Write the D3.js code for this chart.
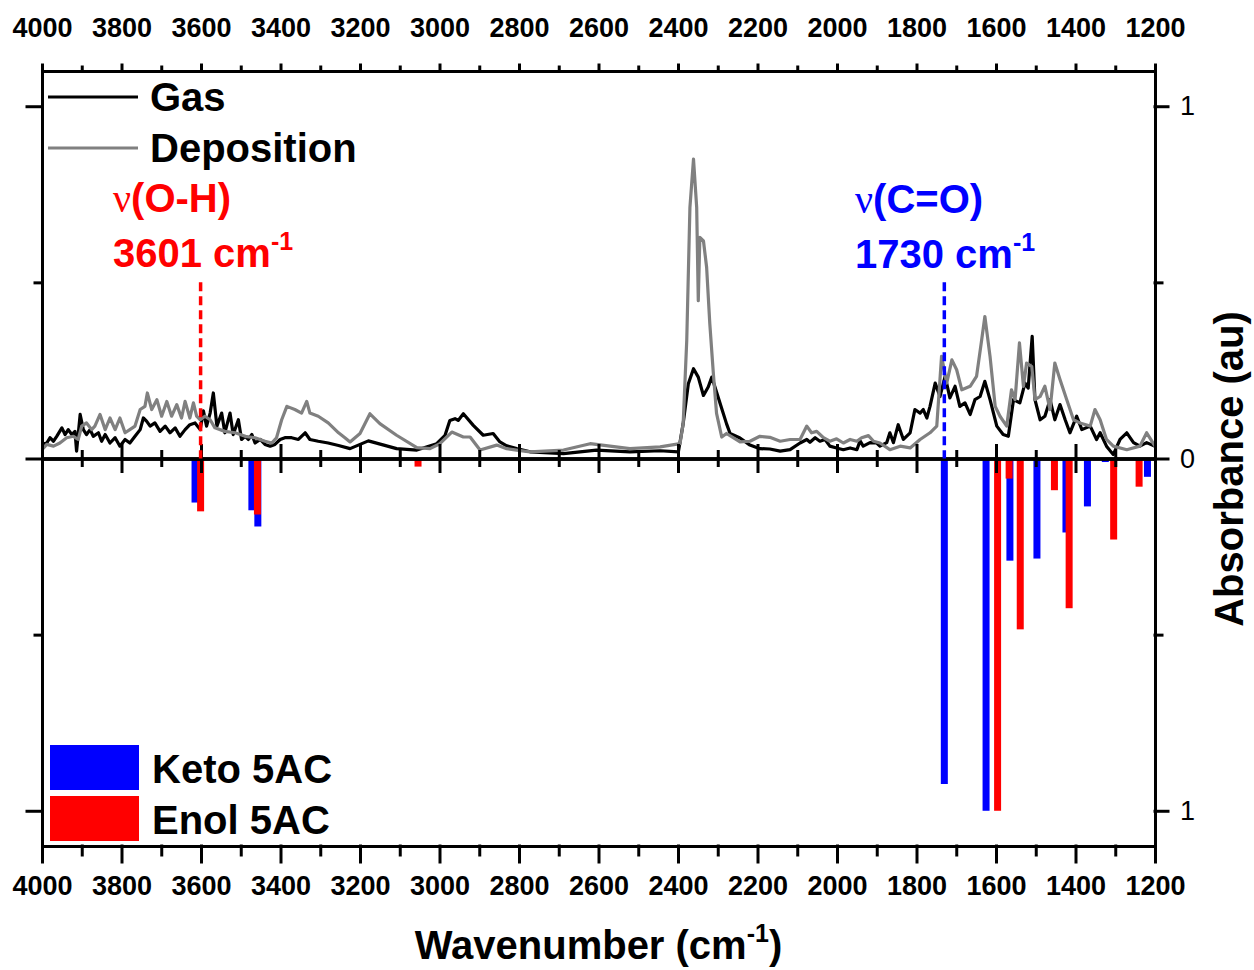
<!DOCTYPE html>
<html>
<head>
<meta charset="utf-8">
<script src="https://cdn.jsdelivr.net/npm/d3@7"></script>
<style>
body { margin: 0; background: #fff; }
text { font-family: "Liberation Sans", Arial, sans-serif; }
</style>
</head>
<body>
<script>
// spectra: [wavenumber, absorbance]
var gas = [
  [4000,0.040],[3988,0.044],[3980,0.059],[3971,0.049],[3963,0.063],[3950,0.087],[3942,0.068],[3934,0.082],
  [3925,0.068],[3917,0.077],[3913,0.021],[3904,0.125],[3896,0.082],[3888,0.068],[3879,0.082],[3871,0.063],
  [3858,0.073],[3850,0.049],[3841,0.068],[3829,0.044],[3816,0.059],[3804,0.035],[3791,0.054],[3779,0.044],
  [3766,0.063],[3753,0.082],[3745,0.115],[3737,0.106],[3728,0.092],[3716,0.101],[3703,0.077],[3690,0.092],
  [3678,0.073],[3665,0.087],[3653,0.063],[3640,0.082],[3628,0.096],[3615,0.101],[3602,0.082],[3594,0.135],
  [3586,0.092],[3577,0.129],[3569,0.186],[3560,0.092],[3548,0.129],[3540,0.073],[3527,0.129],[3519,0.068],
  [3506,0.110],[3498,0.054],[3489,0.063],[3481,0.054],[3472,0.068],[3464,0.044],[3451,0.054],[3439,0.040],
  [3426,0.035],[3414,0.040],[3401,0.054],[3389,0.059],[3372,0.059],[3355,0.054],[3338,0.073],[3326,0.054],
  [3305,0.049],[3280,0.044],[3254,0.037],[3225,0.028],[3179,0.050],[3140,0.038],[3108,0.028],[3057,0.024],
  [3007,0.042],[2986,0.066],[2974,0.108],[2961,0.113],[2953,0.108],[2940,0.127],[2915,0.094],[2890,0.066],
  [2865,0.071],[2848,0.047],[2831,0.036],[2806,0.028],[2772,0.019],[2688,0.014],[2605,0.024],[2521,0.019],
  [2445,0.022],[2399,0.019],[2387,0.099],[2374,0.212],[2361,0.255],[2349,0.231],[2336,0.179],[2324,0.203],
  [2315,0.231],[2307,0.203],[2294,0.156],[2278,0.099],[2269,0.071],[2244,0.058],[2219,0.038],[2194,0.028],
  [2169,0.027],[2143,0.021],[2118,0.025],[2093,0.044],[2076,0.054],[2068,0.046],[2055,0.059],[2043,0.049],
  [2030,0.054],[2018,0.035],[2001,0.030],[1984,0.025],[1967,0.030],[1950,0.025],[1942,0.050],[1934,0.035],
  [1917,0.045],[1900,0.044],[1892,0.035],[1875,0.045],[1867,0.073],[1858,0.045],[1846,0.096],[1833,0.054],
  [1816,0.073],[1804,0.139],[1791,0.129],[1783,0.139],[1774,0.115],[1766,0.148],[1753,0.214],[1741,0.176],
  [1728,0.233],[1716,0.172],[1703,0.205],[1691,0.148],[1678,0.158],[1665,0.125],[1653,0.167],[1640,0.176],
  [1628,0.219],[1615,0.167],[1598,0.092],[1582,0.068],[1569,0.063],[1556,0.167],[1540,0.158],[1527,0.214],
  [1519,0.200],[1509,0.347],[1502,0.167],[1489,0.110],[1477,0.120],[1464,0.167],[1452,0.110],[1439,0.153],
  [1426,0.110],[1414,0.073],[1397,0.120],[1384,0.082],[1363,0.092],[1347,0.054],[1338,0.073],[1322,0.035],
  [1305,0.011],[1288,0.054],[1271,0.073],[1254,0.045],[1238,0.035],[1221,0.045],[1200,0.035]
];

var deposition = [
  [4000,0.025],[3988,0.040],[3971,0.035],[3955,0.044],[3938,0.059],[3921,0.063],[3909,0.054],[3900,0.092],
  [3888,0.101],[3875,0.082],[3867,0.092],[3854,0.125],[3841,0.082],[3829,0.115],[3816,0.082],[3804,0.115],
  [3791,0.073],[3779,0.082],[3766,0.092],[3753,0.139],[3741,0.148],[3735,0.186],[3724,0.139],[3711,0.167],
  [3699,0.120],[3686,0.162],[3674,0.120],[3661,0.153],[3649,0.115],[3640,0.162],[3628,0.115],[3619,0.158],
  [3611,0.120],[3602,0.110],[3590,0.120],[3577,0.110],[3565,0.087],[3540,0.077],[3514,0.073],[3489,0.063],
  [3464,0.059],[3439,0.049],[3422,0.044],[3410,0.059],[3397,0.110],[3384,0.148],[3364,0.139],[3347,0.129],
  [3334,0.162],[3326,0.129],[3305,0.120],[3280,0.101],[3254,0.073],[3238,0.059],[3225,0.047],[3200,0.071],
  [3175,0.127],[3150,0.099],[3108,0.066],[3057,0.031],[3024,0.028],[2999,0.042],[2969,0.075],[2940,0.061],
  [2923,0.061],[2898,0.024],[2856,0.038],[2831,0.028],[2806,0.024],[2772,0.019],[2688,0.024],[2621,0.042],
  [2521,0.028],[2445,0.033],[2395,0.042],[2387,0.099],[2378,0.335],[2370,0.713],[2361,0.850],[2353,0.713],
  [2349,0.448],[2345,0.628],[2336,0.618],[2328,0.543],[2320,0.383],[2311,0.240],[2303,0.128],[2290,0.061],
  [2278,0.071],[2244,0.047],[2219,0.049],[2194,0.063],[2169,0.060],[2143,0.049],[2118,0.054],[2093,0.054],
  [2076,0.092],[2064,0.073],[2051,0.077],[2034,0.059],[2018,0.049],[2001,0.056],[1984,0.044],[1967,0.054],
  [1950,0.049],[1938,0.059],[1921,0.065],[1908,0.049],[1892,0.044],[1867,0.025],[1841,0.035],[1816,0.030],
  [1791,0.054],[1766,0.073],[1749,0.092],[1737,0.290],[1724,0.214],[1711,0.280],[1699,0.252],[1686,0.195],
  [1665,0.205],[1649,0.233],[1636,0.337],[1628,0.403],[1615,0.290],[1602,0.148],[1590,0.120],[1573,0.092],
  [1561,0.195],[1552,0.167],[1541,0.328],[1531,0.205],[1523,0.271],[1510,0.261],[1502,0.167],[1489,0.176],
  [1477,0.205],[1464,0.139],[1452,0.271],[1439,0.224],[1422,0.167],[1405,0.110],[1389,0.101],[1363,0.092],
  [1351,0.139],[1338,0.110],[1322,0.054],[1305,0.035],[1271,0.025],[1238,0.035],[1221,0.073],[1200,0.035]
];

// computed bands: [wavenumber, relative intensity] (drawn downward)
var keto = [[3615,0.125],[3472,0.147],[3457,0.193],[3050,0.005],[1730,0.924],[1625,1.0],[1565,0.29],
            [1497,0.284],[1424,0.21],[1370,0.136],[1325,0.01],[1219,0.052]];
var enol = [[3601,0.15],[3458,0.159],[3054,0.023],[1596,1.0],[1567,0.057],[1539,0.485],[1453,0.09],
            [1416,0.425],[1304,0.23],[1240,0.08]];

var majorX = [4000,3800,3600,3400,3200,3000,2800,2600,2400,2200,2000,1800,1600,1400,1200];
var minorX = [3900,3700,3500,3300,3100,2900,2700,2500,2300,2100,1900,1700,1500,1300];
var majorY = [-1, 0, 1];
var minorY = [-0.5, 0.5];

// dimensioni
var width = 1254, height = 970;
var pLeft = 42, pRight = 1155, pTop = 71, pBottom = 846;

var svg = d3.select("body").append("svg")
    .attr("width", width)
    .attr("height", height);

var x = d3.scaleLinear().domain([4000, 1200]).range([pLeft, pRight]);
var y = d3.scaleLinear().domain([-1.1, 1.1]).range([pBottom, pTop]);

// spectra
var line = d3.line().x(function (d) { return x(d[0]); }).y(function (d) { return y(d[1]); });

svg.append("path").datum(gas)
    .attr("d", line).attr("fill", "none").attr("stroke", "#000").attr("stroke-width", 3.2)
    .attr("stroke-linejoin", "round");
svg.append("path").datum(deposition)
    .attr("d", line).attr("fill", "none").attr("stroke", "#808080").attr("stroke-width", 3.2)
    .attr("stroke-linejoin", "round");

// bars
var barW = 7;
svg.append("g").selectAll("rect").data(keto).enter().append("rect")
    .attr("x", function (d) { return x(d[0]) - barW / 2; })
    .attr("y", y(0))
    .attr("width", barW)
    .attr("height", function (d) { return y(-d[1]) - y(0); })
    .attr("fill", "#0000ff");
svg.append("g").selectAll("rect").data(enol).enter().append("rect")
    .attr("x", function (d) { return x(d[0]) - barW / 2; })
    .attr("y", y(0))
    .attr("width", barW)
    .attr("height", function (d) { return y(-d[1]) - y(0); })
    .attr("fill", "#ff0000");

// assi
function styleAxis(g) {
    g.selectAll("path, line").attr("stroke", "#000").attr("stroke-width", 3).attr("stroke-linecap", "square");
    g.selectAll("text").attr("fill", "#000").attr("font-family", "Liberation Sans, Arial, sans-serif");
}

svg.append("g").attr("transform", "translate(0," + pTop + ")")
    .call(d3.axisTop(x).tickValues(majorX).tickSize(6).tickSizeOuter(0).tickPadding(28).tickFormat(d3.format("d")))
    .call(styleAxis)
    .selectAll("text").attr("font-size", 27).attr("font-weight", "bold");
svg.append("g").attr("transform", "translate(0," + pTop + ")")
    .call(d3.axisTop(x).tickValues(minorX).tickSize(4).tickSizeOuter(0).tickFormat(""))
    .call(styleAxis);

svg.append("g").attr("transform", "translate(0," + pBottom + ")")
    .call(d3.axisBottom(x).tickValues(majorX).tickSize(16).tickSizeOuter(0).tickPadding(14).tickFormat(d3.format("d")))
    .call(styleAxis)
    .selectAll("text").attr("font-size", 27).attr("font-weight", "bold");
svg.append("g").attr("transform", "translate(0," + pBottom + ")")
    .call(d3.axisBottom(x).tickValues(minorX).tickSize(9).tickSizeOuter(0).tickFormat(""))
    .call(styleAxis);

// linea dello zero con tacche su entrambi i lati
[d3.axisTop, d3.axisBottom].forEach(function (ax) {
    svg.append("g").attr("transform", "translate(0," + y(0) + ")")
        .call(ax(x).tickValues(majorX).tickSize(13).tickSizeOuter(0).tickFormat(""))
        .call(styleAxis);
    svg.append("g").attr("transform", "translate(0," + y(0) + ")")
        .call(ax(x).tickValues(minorX).tickSize(7).tickSizeOuter(0).tickFormat(""))
        .call(styleAxis);
});

svg.append("g").attr("transform", "translate(" + pLeft + ",0)")
    .call(d3.axisLeft(y).tickValues(majorY).tickSize(15).tickSizeOuter(0).tickFormat(""))
    .call(styleAxis);
svg.append("g").attr("transform", "translate(" + pLeft + ",0)")
    .call(d3.axisLeft(y).tickValues(minorY).tickSize(7).tickSizeOuter(0).tickFormat(""))
    .call(styleAxis);

svg.append("g").attr("transform", "translate(" + pRight + ",0)")
    .call(d3.axisRight(y).tickValues(majorY).tickSize(13).tickSizeOuter(0).tickPadding(12)
        .tickFormat(function (d) { return Math.abs(d); }))
    .call(styleAxis)
    .selectAll("text").attr("font-size", 27).attr("font-weight", "normal");
svg.append("g").attr("transform", "translate(" + pRight + ",0)")
    .call(d3.axisRight(y).tickValues(minorY).tickSize(7).tickSizeOuter(0).tickFormat(""))
    .call(styleAxis);

// linee tratteggiate
var marks = [{ wn: 3601, color: "#ff0000" }, { wn: 1730, color: "#0000ff" }];
svg.selectAll(".mark").data(marks).enter().append("line")
    .attr("x1", function (d) { return x(d.wn); })
    .attr("x2", function (d) { return x(d.wn); })
    .attr("y1", y(0.5))
    .attr("y2", y(0))
    .attr("stroke", function (d) { return d.color; })
    .attr("stroke-width", 3.5)
    .attr("stroke-dasharray", "9,5");

// annotazioni
function label(xp, yp, color, parts) {
    var t = svg.append("text").attr("x", xp).attr("y", yp).attr("fill", color)
        .attr("font-size", 40).attr("font-weight", "bold");
    parts.forEach(function (p) {
        var s = t.append("tspan").text(p.t);
        if (p.sup) s.attr("font-size", 25).attr("dy", -17);
        if (p.normal) s.attr("font-weight", "normal").attr("font-family", "Liberation Serif, serif");
    });
}
label(113, 212, "#ff0000", [{ t: "ν", normal: true }, { t: "(O-H)" }]);
label(113, 267, "#ff0000", [{ t: "3601 cm" }, { t: "-1", sup: true }]);
label(855, 213, "#0000ff", [{ t: "ν", normal: true }, { t: "(C=O)" }]);
label(855, 268, "#0000ff", [{ t: "1730 cm" }, { t: "-1", sup: true }]);

// legenda linee
var legLines = [{ name: "Gas", color: "#000", yp: 97 }, { name: "Deposition", color: "#808080", yp: 148 }];
legLines.forEach(function (d) {
    svg.append("line").attr("x1", 48).attr("x2", 138).attr("y1", d.yp).attr("y2", d.yp)
        .attr("stroke", d.color).attr("stroke-width", 3.2);
    svg.append("text").attr("x", 150).attr("y", d.yp + 14).attr("font-size", 40)
        .attr("font-weight", "bold").text(d.name);
});

// legenda barre
var legBars = [{ name: "Keto 5AC", color: "#0000ff", yp: 745 }, { name: "Enol 5AC", color: "#ff0000", yp: 796 }];
legBars.forEach(function (d) {
    svg.append("rect").attr("x", 50).attr("y", d.yp).attr("width", 89).attr("height", 45).attr("fill", d.color);
    svg.append("text").attr("x", 152).attr("y", d.yp + 38).attr("font-size", 40)
        .attr("font-weight", "bold").text(d.name);
});

// titoli assi
var xt = svg.append("text").attr("x", (pLeft + pRight) / 2).attr("y", 959).attr("text-anchor", "middle")
    .attr("font-size", 40).attr("font-weight", "bold");
xt.append("tspan").text("Wavenumber (cm");
xt.append("tspan").text("-1").attr("font-size", 25).attr("dy", -17);
xt.append("tspan").text(")").attr("dy", 17);

svg.append("text").attr("transform", "translate(1243,469) rotate(-90)").attr("text-anchor", "middle")
    .attr("font-size", 40).attr("font-weight", "bold").text("Absorbance (au)");
</script>
</body>
</html>
